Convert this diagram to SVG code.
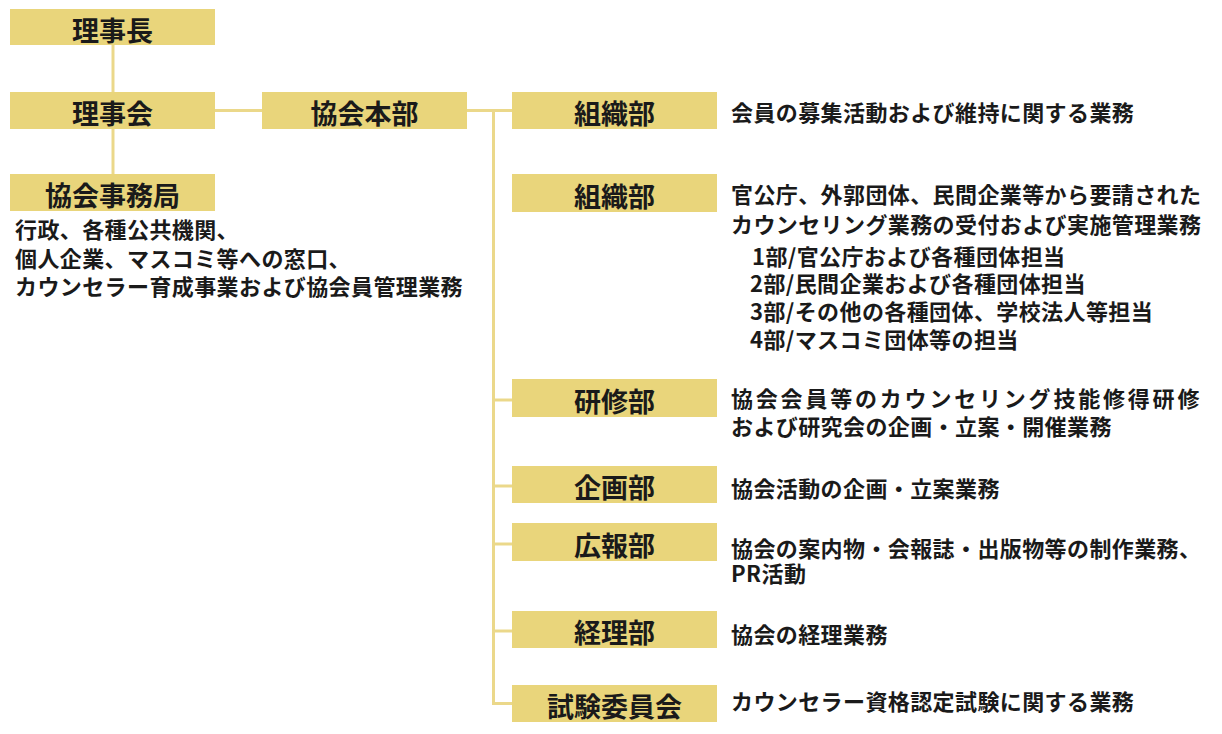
<svg xmlns="http://www.w3.org/2000/svg" width="1222" height="734" viewBox="0 0 1222 734">
<style>
.box{fill:#E9D57B}
.lbl{font-family:"Noto Sans CJK JP","Noto Sans",sans-serif;font-weight:700;font-size:27px;fill:#1a1a1a;text-anchor:middle;dominant-baseline:central}
.desc{font-family:"Noto Sans CJK JP","Noto Sans",sans-serif;font-weight:700;font-size:22px;fill:#1a1a1a;dominant-baseline:central;letter-spacing:0.4px}
.ln{stroke:#EBD88A;stroke-width:3;fill:none}
</style>
<rect width="1222" height="734" fill="#ffffff"/>
<g id="connectors">
<line class="ln" x1="113" y1="45" x2="113" y2="92"/>
<line class="ln" x1="113" y1="129" x2="113" y2="174"/>
<line class="ln" x1="215" y1="110.5" x2="262" y2="110.5"/>
<line class="ln" x1="467" y1="110.5" x2="512" y2="110.5"/>
<polyline class="ln" points="493.5,110.5 493.5,703.5 512,703.5"/>
<line class="ln" x1="493.5" y1="400" x2="512" y2="400"/>
<line class="ln" x1="493.5" y1="486" x2="512" y2="486"/>
<line class="ln" x1="493.5" y1="544" x2="512" y2="544"/>
<line class="ln" x1="493.5" y1="631" x2="512" y2="631"/>
</g>
<g id="rijicho"><rect class="box" x="10" y="9" width="205" height="36"/><text class="lbl" x="112.5" y="29">理事長</text></g>
<g id="rijikai"><rect class="box" x="10" y="92" width="205" height="37"/><text class="lbl" x="112.5" y="112.5">理事会</text></g>
<g id="jimukyoku"><rect class="box" x="10" y="174" width="205" height="37"/><text class="lbl" x="112.5" y="194.5">協会事務局</text>
<text class="desc" x="15" y="228">行政、各種公共機関、</text>
<text class="desc" x="15" y="257">個人企業、マスコミ等への窓口、</text>
<text class="desc" x="15" y="285">カウンセラー育成事業および協会員管理業務</text>
</g>
<g id="honbu"><rect class="box" x="262" y="92" width="205" height="37"/><text class="lbl" x="364.5" y="112.5">協会本部</text></g>
<g id="soshiki1"><rect class="box" x="512" y="92" width="205" height="37"/><text class="lbl" x="614.5" y="112.5">組織部</text>
<text class="desc" x="731" y="111">会員の募集活動および維持に関する業務</text></g>
<g id="soshiki2"><rect class="box" x="512" y="174" width="205" height="38"/><text class="lbl" x="614.5" y="195">組織部</text>
<text class="desc" x="731" y="193">官公庁、外郭団体、民間企業等から要請された</text>
<text class="desc" x="731" y="223">カウンセリング業務の受付および実施管理業務</text>
<text class="desc" x="752" y="255">1部/官公庁および各種団体担当</text>
<text class="desc" x="750" y="282">2部/民間企業および各種団体担当</text>
<text class="desc" x="750" y="310">3部/その他の各種団体、学校法人等担当</text>
<text class="desc" x="750" y="338">4部/マスコミ団体等の担当</text></g>
<g id="kenshu"><rect class="box" x="512" y="379" width="205" height="38"/><text class="lbl" x="614.5" y="400">研修部</text>
<text class="desc" x="731" y="397" style="letter-spacing:2.8px">協会会員等のカウンセリング技能修得研修</text>
<text class="desc" x="731" y="425">および研究会の企画・立案・開催業務</text></g>
<g id="kikaku"><rect class="box" x="512" y="466" width="205" height="37"/><text class="lbl" x="614.5" y="486.5">企画部</text>
<text class="desc" x="731" y="487">協会活動の企画・立案業務</text></g>
<g id="koho"><rect class="box" x="512" y="523" width="205" height="38"/><text class="lbl" x="614.5" y="544">広報部</text>
<text class="desc" x="731" y="547">協会の案内物・会報誌・出版物等の制作業務、</text>
<text class="desc" x="731" y="572">PR活動</text></g>
<g id="keiri"><rect class="box" x="512" y="611" width="205" height="37"/><text class="lbl" x="614.5" y="631.5">経理部</text>
<text class="desc" x="731" y="633">協会の経理業務</text></g>
<g id="shiken"><rect class="box" x="512" y="685" width="205" height="37"/><text class="lbl" x="614.5" y="705.5">試験委員会</text>
<text class="desc" x="731" y="700">カウンセラー資格認定試験に関する業務</text></g>
</svg>
